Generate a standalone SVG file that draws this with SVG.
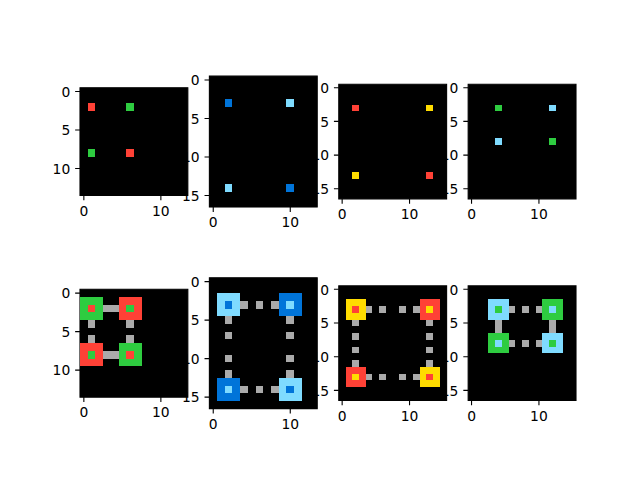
<svg xmlns="http://www.w3.org/2000/svg" width="640" height="480" viewBox="0 0 640 480">
<style>
.bg{fill:#000;stroke:#000;stroke-width:1.11;vector-effect:non-scaling-stroke}
.px{shape-rendering:crispEdges}
.R{fill:#FF4136}.G{fill:#2ECC40}.B{fill:#0074D9}.T{fill:#7FDBFF}.Y{fill:#FFDC00}.S{fill:#AAAAAA}
.tk{stroke:#000;stroke-width:1.11;fill:none}
.lb{font-family:"DejaVu Sans",sans-serif;font-size:13.89px;fill:#000}
.xl{text-anchor:middle}.yl{text-anchor:end}
</style>
<rect width="640" height="480" fill="#fff"/>
<g id="axes-ticks">
  <!-- P1 -->
  <path class="tk" d="M83.85 195.51v4.86M160.87 195.51v4.86M80 91.54h-4.86M80 130.05h-4.86M80 168.56h-4.86"/>
  <text class="lb xl" x="83.85" y="215.79">0</text><text class="lb xl" x="160.87" y="215.79">10</text>
  <text class="lb yl" x="70.28" y="96.82">0</text><text class="lb yl" x="70.28" y="135.33">5</text><text class="lb yl" x="70.28" y="173.84">10</text>
  <!-- P2 -->
  <path class="tk" d="M213.24 207.07v4.86M290.26 207.07v4.86M209.39 79.99h-4.86M209.39 118.49h-4.86M209.39 157h-4.86M209.39 195.51h-4.86"/>
  <text class="lb xl" x="213.24" y="227.35">0</text><text class="lb xl" x="290.26" y="227.35">10</text>
  <text class="lb yl" x="199.67" y="85.27">0</text><text class="lb yl" x="199.67" y="123.77">5</text><text class="lb yl" x="199.67" y="162.28">10</text><text class="lb yl" x="199.67" y="200.79">15</text>
  <!-- P3 -->
  <path class="tk" d="M342.15 198.88v4.86M409.54 198.88v4.86M338.78 87.69h-4.86M338.78 121.38h-4.86M338.78 155.08h-4.86M338.78 188.77h-4.86"/>
  <text class="lb xl" x="342.15" y="219.16">0</text><text class="lb xl" x="409.54" y="219.16">10</text>
  <text class="lb yl" x="329.06" y="92.97">0</text><text class="lb yl" x="329.06" y="126.66">5</text><text class="lb yl" x="329.06" y="160.36">10</text><text class="lb yl" x="329.06" y="194.05">15</text>
  <!-- P4 -->
  <path class="tk" d="M471.54 198.88v4.86M538.94 198.88v4.86M468.17 87.69h-4.86M468.17 121.38h-4.86M468.17 155.08h-4.86M468.17 188.77h-4.86"/>
  <text class="lb xl" x="471.54" y="219.16">0</text><text class="lb xl" x="538.94" y="219.16">10</text>
  <text class="lb yl" x="458.45" y="92.97">0</text><text class="lb yl" x="458.45" y="126.66">5</text><text class="lb yl" x="458.45" y="160.36">10</text><text class="lb yl" x="458.45" y="194.05">15</text>
  <!-- P5 -->
  <path class="tk" d="M83.85 397.11v4.86M160.87 397.11v4.86M80 293.14h-4.86M80 331.65h-4.86M80 370.16h-4.86"/>
  <text class="lb xl" x="83.85" y="417.39">0</text><text class="lb xl" x="160.87" y="417.39">10</text>
  <text class="lb yl" x="70.28" y="298.42">0</text><text class="lb yl" x="70.28" y="336.93">5</text><text class="lb yl" x="70.28" y="375.44">10</text>
  <!-- P6 -->
  <path class="tk" d="M213.24 408.67v4.86M290.26 408.67v4.86M209.39 281.59h-4.86M209.39 320.09h-4.86M209.39 358.6h-4.86M209.39 397.11h-4.86"/>
  <text class="lb xl" x="213.24" y="428.95">0</text><text class="lb xl" x="290.26" y="428.95">10</text>
  <text class="lb yl" x="199.67" y="286.87">0</text><text class="lb yl" x="199.67" y="325.37">5</text><text class="lb yl" x="199.67" y="363.88">10</text><text class="lb yl" x="199.67" y="402.39">15</text>
  <!-- P7 -->
  <path class="tk" d="M342.15 400.48v4.86M409.54 400.48v4.86M338.78 289.29h-4.86M338.78 322.98h-4.86M338.78 356.68h-4.86M338.78 390.37h-4.86"/>
  <text class="lb xl" x="342.15" y="420.76">0</text><text class="lb xl" x="409.54" y="420.76">10</text>
  <text class="lb yl" x="329.06" y="294.57">0</text><text class="lb yl" x="329.06" y="328.26">5</text><text class="lb yl" x="329.06" y="361.96">10</text><text class="lb yl" x="329.06" y="395.65">15</text>
  <!-- P8 -->
  <path class="tk" d="M471.54 400.48v4.86M538.94 400.48v4.86M468.17 289.29h-4.86M468.17 322.98h-4.86M468.17 356.68h-4.86M468.17 390.37h-4.86"/>
  <text class="lb xl" x="471.54" y="420.76">0</text><text class="lb xl" x="538.94" y="420.76">10</text>
  <text class="lb yl" x="458.45" y="294.57">0</text><text class="lb yl" x="458.45" y="328.26">5</text><text class="lb yl" x="458.45" y="361.96">10</text><text class="lb yl" x="458.45" y="395.65">15</text>
</g>
<g id="panel-1" transform="translate(80,87.687) scale(7.7019)">
  <rect class="bg" width="14" height="14"/>
  <g class="px">
    <rect class="R" x="1" y="2" width="1" height="1"/><rect class="G" x="6" y="2" width="1" height="1"/>
    <rect class="G" x="1" y="8" width="1" height="1"/><rect class="R" x="6" y="8" width="1" height="1"/>
  </g>
</g>
<g id="panel-2" transform="translate(209.391,76.134) scale(7.7019)">
  <rect class="bg" width="14" height="17"/>
  <g class="px">
    <rect class="B" x="2" y="3" width="1" height="1"/><rect class="T" x="10" y="3" width="1" height="1"/>
    <rect class="T" x="2" y="14" width="1" height="1"/><rect class="B" x="10" y="14" width="1" height="1"/>
  </g>
</g>
<g id="panel-3" transform="translate(338.783,84.317) scale(6.7391)">
  <rect class="bg" width="16" height="17"/>
  <g class="px">
    <rect class="R" x="2" y="3" width="1" height="1"/><rect class="Y" x="13" y="3" width="1" height="1"/>
    <rect class="Y" x="2" y="13" width="1" height="1"/><rect class="R" x="13" y="13" width="1" height="1"/>
  </g>
</g>
<g id="panel-4" transform="translate(468.174,84.317) scale(6.7391)">
  <rect class="bg" width="16" height="17"/>
  <g class="px">
    <rect class="G" x="4" y="3" width="1" height="1"/><rect class="T" x="12" y="3" width="1" height="1"/>
    <rect class="T" x="4" y="8" width="1" height="1"/><rect class="G" x="12" y="8" width="1" height="1"/>
  </g>
</g>
<g id="panel-5" transform="translate(80,289.287) scale(7.7019)">
  <rect class="bg" width="14" height="14"/>
  <g class="px">
    <rect class="G" x="0" y="1" width="3" height="3"/><rect class="R" x="1" y="2" width="1" height="1"/>
    <rect class="R" x="5" y="1" width="3" height="3"/><rect class="G" x="6" y="2" width="1" height="1"/>
    <rect class="R" x="0" y="7" width="3" height="3"/><rect class="G" x="1" y="8" width="1" height="1"/>
    <rect class="G" x="5" y="7" width="3" height="3"/><rect class="R" x="6" y="8" width="1" height="1"/>
    <rect class="S" x="3" y="2" width="2" height="1"/><rect class="S" x="3" y="8" width="2" height="1"/>
    <rect class="S" x="1" y="4" width="1" height="1"/><rect class="S" x="1" y="6" width="1" height="1"/>
    <rect class="S" x="6" y="4" width="1" height="1"/><rect class="S" x="6" y="6" width="1" height="1"/>
  </g>
</g>
<g id="panel-6" transform="translate(209.391,277.734) scale(7.7019)">
  <rect class="bg" width="14" height="17"/>
  <g class="px">
    <rect class="T" x="1" y="2" width="3" height="3"/><rect class="B" x="2" y="3" width="1" height="1"/>
    <rect class="B" x="9" y="2" width="3" height="3"/><rect class="T" x="10" y="3" width="1" height="1"/>
    <rect class="B" x="1" y="13" width="3" height="3"/><rect class="T" x="2" y="14" width="1" height="1"/>
    <rect class="T" x="9" y="13" width="3" height="3"/><rect class="B" x="10" y="14" width="1" height="1"/>
    <rect class="S" x="4" y="3" width="1" height="1"/><rect class="S" x="6" y="3" width="1" height="1"/><rect class="S" x="8" y="3" width="1" height="1"/>
    <rect class="S" x="4" y="14" width="1" height="1"/><rect class="S" x="6" y="14" width="1" height="1"/><rect class="S" x="8" y="14" width="1" height="1"/>
    <rect class="S" x="2" y="5" width="1" height="1"/><rect class="S" x="2" y="7" width="1" height="1"/><rect class="S" x="2" y="10" width="1" height="1"/><rect class="S" x="2" y="12" width="1" height="1"/>
    <rect class="S" x="10" y="5" width="1" height="1"/><rect class="S" x="10" y="7" width="1" height="1"/><rect class="S" x="10" y="10" width="1" height="1"/><rect class="S" x="10" y="12" width="1" height="1"/>
  </g>
</g>
<g id="panel-7" transform="translate(338.783,285.917) scale(6.7391)">
  <rect class="bg" width="16" height="17"/>
  <g class="px">
    <rect class="Y" x="1" y="2" width="3" height="3"/><rect class="R" x="2" y="3" width="1" height="1"/>
    <rect class="R" x="12" y="2" width="3" height="3"/><rect class="Y" x="13" y="3" width="1" height="1"/>
    <rect class="R" x="1" y="12" width="3" height="3"/><rect class="Y" x="2" y="13" width="1" height="1"/>
    <rect class="Y" x="12" y="12" width="3" height="3"/><rect class="R" x="13" y="13" width="1" height="1"/>
    <rect class="S" x="4" y="3" width="1" height="1"/><rect class="S" x="6" y="3" width="1" height="1"/><rect class="S" x="9" y="3" width="1" height="1"/><rect class="S" x="11" y="3" width="1" height="1"/>
    <rect class="S" x="4" y="13" width="1" height="1"/><rect class="S" x="6" y="13" width="1" height="1"/><rect class="S" x="9" y="13" width="1" height="1"/><rect class="S" x="11" y="13" width="1" height="1"/>
    <rect class="S" x="2" y="5" width="1" height="1"/><rect class="S" x="2" y="7" width="1" height="1"/><rect class="S" x="2" y="9" width="1" height="1"/><rect class="S" x="2" y="11" width="1" height="1"/>
    <rect class="S" x="13" y="5" width="1" height="1"/><rect class="S" x="13" y="7" width="1" height="1"/><rect class="S" x="13" y="9" width="1" height="1"/><rect class="S" x="13" y="11" width="1" height="1"/>
  </g>
</g>
<g id="panel-8" transform="translate(468.174,285.917) scale(6.7391)">
  <rect class="bg" width="16" height="17"/>
  <g class="px">
    <rect class="T" x="3" y="2" width="3" height="3"/><rect class="G" x="4" y="3" width="1" height="1"/>
    <rect class="G" x="11" y="2" width="3" height="3"/><rect class="T" x="12" y="3" width="1" height="1"/>
    <rect class="G" x="3" y="7" width="3" height="3"/><rect class="T" x="4" y="8" width="1" height="1"/>
    <rect class="T" x="11" y="7" width="3" height="3"/><rect class="G" x="12" y="8" width="1" height="1"/>
    <rect class="S" x="6" y="3" width="1" height="1"/><rect class="S" x="8" y="3" width="1" height="1"/><rect class="S" x="10" y="3" width="1" height="1"/>
    <rect class="S" x="6" y="8" width="1" height="1"/><rect class="S" x="8" y="8" width="1" height="1"/><rect class="S" x="10" y="8" width="1" height="1"/>
    <rect class="S" x="4" y="5" width="1" height="2"/><rect class="S" x="12" y="5" width="1" height="2"/>
  </g>
</g>
</svg>
